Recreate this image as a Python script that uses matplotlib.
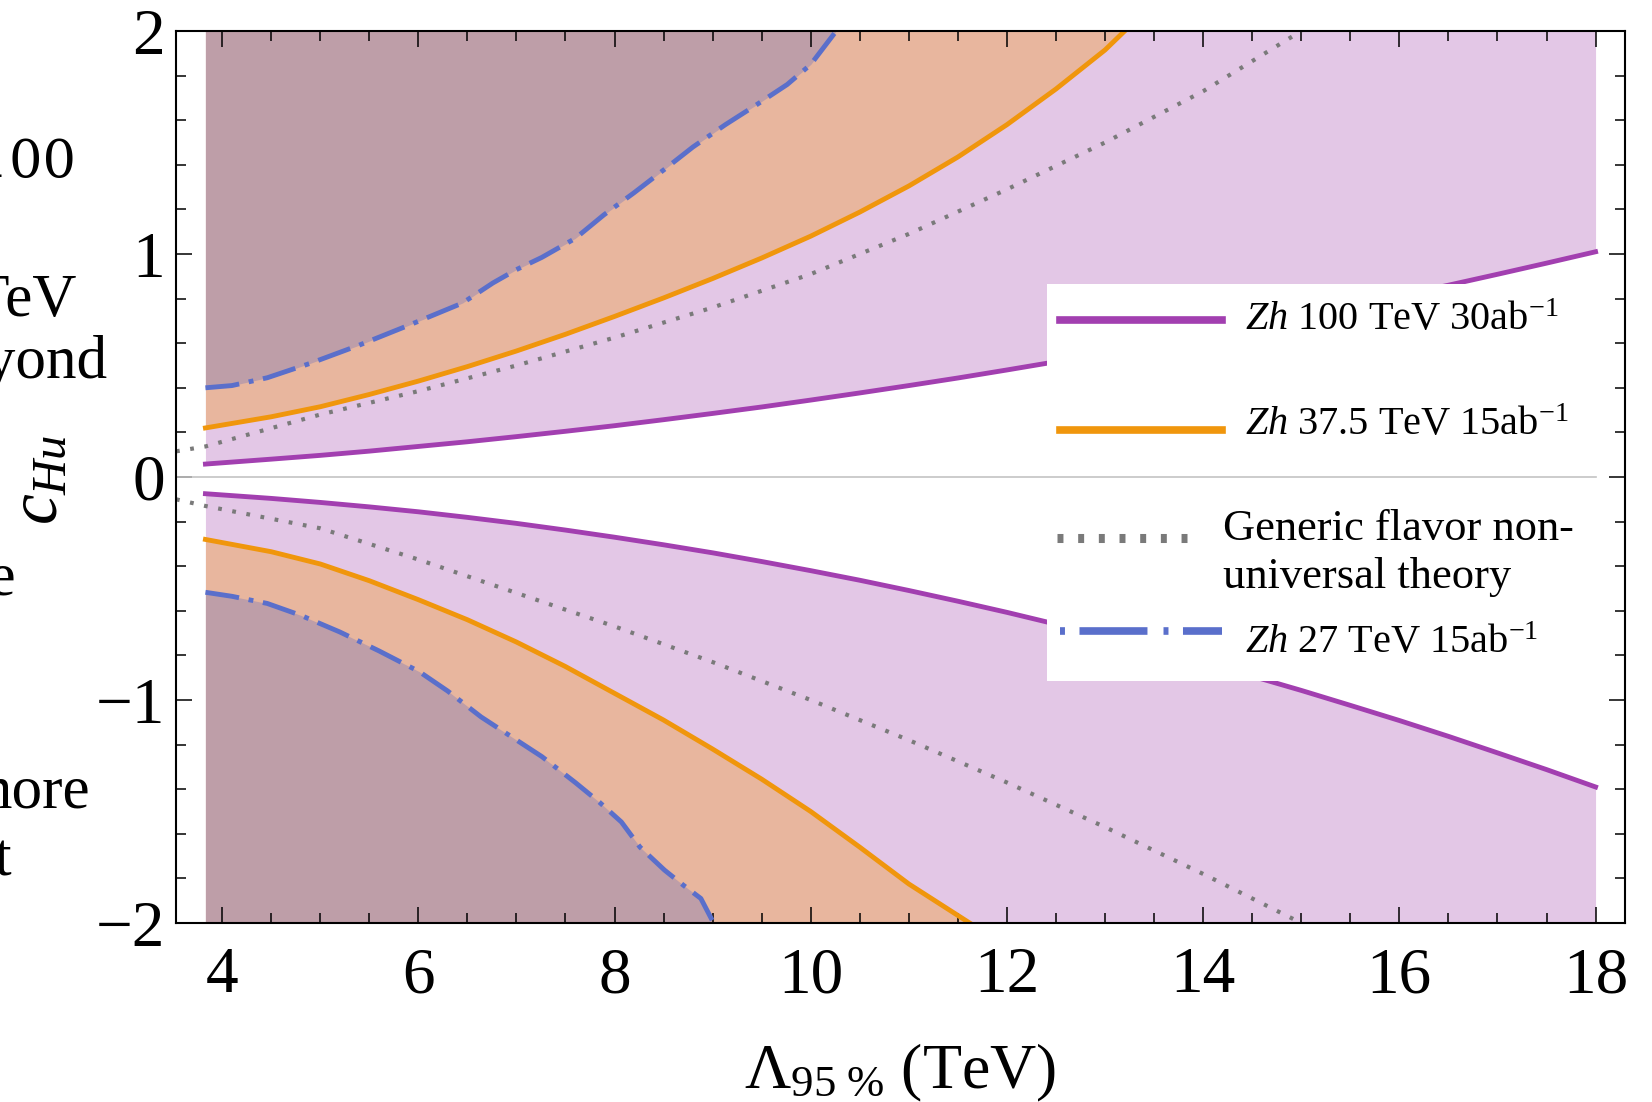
import numpy as np
import matplotlib.pyplot as plt
from matplotlib.patches import Rectangle
from matplotlib.ticker import MultipleLocator

plt.rcParams['font.family'] = ['Liberation Serif', 'DejaVu Serif']
plt.rcParams['mathtext.fontset'] = 'custom'
plt.rcParams['mathtext.rm'] = 'Liberation Serif'
plt.rcParams['mathtext.it'] = 'Liberation Serif:italic'

# Zh 100 TeV 30ab^-1 (purple band edges)
x_100 = [3.83, 4.5, 5, 5.5, 6, 6.5, 7, 7.5, 8, 8.5, 9, 9.5, 10, 10.5, 11, 11.5,
         12, 12.5, 13, 13.5, 14, 14.5, 15, 15.5, 16, 16.5, 17, 17.5, 18]
up_100 = [0.058, 0.080, 0.097, 0.116, 0.137, 0.158, 0.181, 0.205, 0.230, 0.257,
          0.285, 0.314, 0.345, 0.377, 0.410, 0.444, 0.480, 0.517, 0.556, 0.595,
          0.636, 0.678, 0.722, 0.767, 0.813, 0.860, 0.909, 0.959, 1.010]
lo_100 = [-0.075, -0.096, -0.114, -0.134, -0.156, -0.181, -0.208, -0.238, -0.270,
          -0.304, -0.340, -0.379, -0.420, -0.463, -0.509, -0.557, -0.607, -0.660,
          -0.715, -0.772, -0.831, -0.893, -0.957, -1.024, -1.092, -1.163, -1.237,
          -1.312, -1.390]

# Zh 37.5 TeV 15ab^-1 (orange)
x_375_up = [3.83, 4.5, 5, 5.5, 6, 6.5, 7, 7.5, 8, 8.5, 9, 9.5, 10, 10.5, 11, 11.5,
            12, 12.5, 13, 13.2]
up_375 = [0.22, 0.27, 0.315, 0.37, 0.43, 0.495, 0.565, 0.64, 0.72, 0.803, 0.89,
          0.982, 1.08, 1.188, 1.305, 1.435, 1.58, 1.74, 1.915, 2.0]
x_375_lo = [3.83, 4.5, 5, 5.5, 6, 6.5, 7, 7.5, 8, 8.5, 9, 9.5, 10, 10.5, 11, 11.62]
lo_375 = [-0.28, -0.335, -0.39, -0.465, -0.55, -0.64, -0.74, -0.85, -0.97, -1.09,
          -1.22, -1.355, -1.50, -1.66, -1.825, -2.0]

# Zh 27 TeV 15ab^-1 (blue, dash-dot)
x_27_up = [3.83, 4.1, 4.46, 4.9, 5.39, 5.9, 6.45, 6.76, 7.0, 7.26, 7.6, 7.89, 8.2,
           8.51, 8.8, 9.13, 9.45, 9.76, 10.0, 10.26]
up_27 = [0.40, 0.41, 0.445, 0.51, 0.59, 0.68, 0.78, 0.87, 0.93, 0.985, 1.07, 1.175,
         1.275, 1.38, 1.48, 1.58, 1.67, 1.76, 1.85, 2.0]
x_27_lo = [3.83, 4.1, 4.46, 4.8, 5.2, 5.6, 6.01, 6.3, 6.64, 6.95, 7.26, 7.6, 7.85,
           8.07, 8.26, 8.51, 8.7, 8.88, 9.01]
lo_27 = [-0.517, -0.535, -0.567, -0.62, -0.695, -0.78, -0.873, -0.96, -1.076, -1.165,
         -1.254, -1.37, -1.46, -1.547, -1.66, -1.763, -1.83, -1.89, -2.0]

# generic flavor non-universal theory (gray dotted)
x_gen = [3.53, 3.83, 5, 6, 7, 8, 9, 10, 11, 12, 13, 14, 15.0]
up_gen = [0.115, 0.137, 0.28, 0.385, 0.50, 0.625, 0.76, 0.91, 1.09, 1.29, 1.50, 1.73, 2.0]
lo_gen = [-0.10, -0.13, -0.23, -0.37, -0.52, -0.67, -0.83, -1.0, -1.18, -1.37, -1.57, -1.78, -2.0]

c_purple = '#a23fb0'
c_orange = '#f0960c'
c_blue = '#5a6fcb'
c_gray = '#7a7a7a'
f_lilac = '#e3c7e6'
f_orange = '#e8b69e'
f_dark = '#be9ea8'

fig = plt.figure(figsize=(16.52, 11.02), dpi=100)
ax = fig.add_axes([176 / 1652, 179 / 1102, 1449 / 1652, 892 / 1102])

top, bot = 2.0, -2.0
ax.fill_between(x_100, up_100, top, color=f_lilac, lw=0, zorder=1)
ax.fill_between(x_100, lo_100, bot, color=f_lilac, lw=0, zorder=1)
ax.fill_between(x_375_up, up_375, top, color=f_orange, lw=0, zorder=1.1)
ax.fill_between(x_375_lo, lo_375, bot, color=f_orange, lw=0, zorder=1.1)
ax.fill_between(x_27_up, up_27, top, color=f_dark, lw=0, zorder=1.2)
ax.fill_between(x_27_lo, lo_27, bot, color=f_dark, lw=0, zorder=1.2)

lw = 3.5
dashdot = (0, (7.0, 2.0, 1.0, 2.0))
dotted = (0, (0.9, 2.55))
ax.plot(x_gen, up_gen, color=c_gray, lw=3.0, ls=dotted, zorder=3)
ax.plot(x_gen, lo_gen, color=c_gray, lw=3.0, ls=dotted, zorder=3)
ax.plot(x_100, up_100, color=c_purple, lw=lw, zorder=3)
ax.plot(x_100, lo_100, color=c_purple, lw=lw, zorder=3)
ax.plot(x_375_up, up_375, color=c_orange, lw=lw, zorder=3)
ax.plot(x_375_lo, lo_375, color=c_orange, lw=lw, zorder=3)
ax.plot(x_27_up, up_27, color=c_blue, lw=lw, ls=dashdot, zorder=3)
ax.plot(x_27_lo, lo_27, color=c_blue, lw=lw, ls=dashdot, zorder=3)

ax.set_xlim(3.53, 18.3)
ax.set_ylim(-2, 2)

# legend box drawn by hand, zero line goes over it
ax.add_patch(Rectangle((0.601, 0.2713), 0.382, 0.4451, transform=ax.transAxes,
                       facecolor='white', edgecolor='none', zorder=5))
ax.plot([3.53, 18], [0, 0], color='#c4c4c4', lw=1.2, zorder=7, clip_on=False)

hx0, hx1 = 0.6101, 0.7219
ax.plot([hx0, hx1], [0.676, 0.676], transform=ax.transAxes, color=c_purple, lw=5.5, zorder=6)
ax.plot([hx0, hx1], [0.5527, 0.5527], transform=ax.transAxes, color=c_orange, lw=5.5, zorder=6)
ax.plot([0.608, 0.703], [0.4316, 0.4316], transform=ax.transAxes, color=c_gray, lw=6.5,
        ls=(0, (0.66, 1.63)), solid_capstyle='butt', dash_capstyle='butt', zorder=6)
ax.plot([hx0, hx1], [0.3274, 0.3274], transform=ax.transAxes, color=c_blue, lw=5.5,
        ls=(0, (0.65, 1.9, 8.9, 2.1)), zorder=6)

lfs = 29
tx = 0.7377
ax.text(tx, 0.6648, r'$\mathit{Zh}$ 100 TeV 30ab$^{-1}$', transform=ax.transAxes,
        fontsize=lfs, va='baseline', zorder=6)
ax.text(tx, 0.5471, r'$\mathit{Zh}$ 37.5 TeV 15ab$^{-1}$', transform=ax.transAxes,
        fontsize=lfs, va='baseline', zorder=6)
ax.text(0.7226, 0.4294, 'Generic flavor non-', transform=ax.transAxes,
        fontsize=32, va='baseline', zorder=6)
ax.text(0.7226, 0.3756, 'universal theory', transform=ax.transAxes,
        fontsize=32, va='baseline', zorder=6)
ax.text(tx, 0.3027, r'$\mathit{Zh}$ 27 TeV 15ab$^{-1}$', transform=ax.transAxes,
        fontsize=lfs, va='baseline', zorder=6)

# ticks
ax.xaxis.set_major_locator(MultipleLocator(2))
ax.xaxis.set_minor_locator(MultipleLocator(0.5))
ax.yaxis.set_major_locator(MultipleLocator(1))
ax.yaxis.set_minor_locator(MultipleLocator(0.2))
ax.set_yticks([-2, -1, 0, 1, 2])
ax.set_yticklabels(['\u22122', '\u22121', '0', '1', '2'])
ax.tick_params(which='both', direction='in', top=True, right=True, width=1.1, colors='black')
ax.tick_params(which='major', length=11.5, labelsize=47)
ax.tick_params(which='minor', length=7.2)
ax.tick_params(axis='x', which='major', pad=17)
ax.tick_params(axis='y', which='major', pad=8)
for s in ax.spines.values():
    s.set_linewidth(1.5)
    s.set_zorder(8)

fig.text(900 / 1652, 1 - 1088 / 1102, r'$\Lambda_{95\ \%}$ (TeV)', fontsize=46,
         ha='center', va='baseline')
fig.text(40 / 1652, 1 - 480 / 1102, r'$c_{Hu}$', fontsize=50, rotation=90,
         ha='center', va='center')

# fragments of surrounding page text, cut by the left edge
fig.text(76 / 1652, 1 - 177 / 1102, 'at 100', fontsize=38, family='DejaVu Serif',
         ha='right', va='baseline')
frag = [('27 TeV', 76, 316), ('beyond', 108, 378),
        ('the', 16, 595), ('more', 90, 808), ('that', 12, 876)]
for s, xr, yb in frag:
    fig.text(xr / 1652, 1 - yb / 1102, s, fontsize=44, ha='right', va='baseline')

fig.savefig('out.png', dpi=100)
